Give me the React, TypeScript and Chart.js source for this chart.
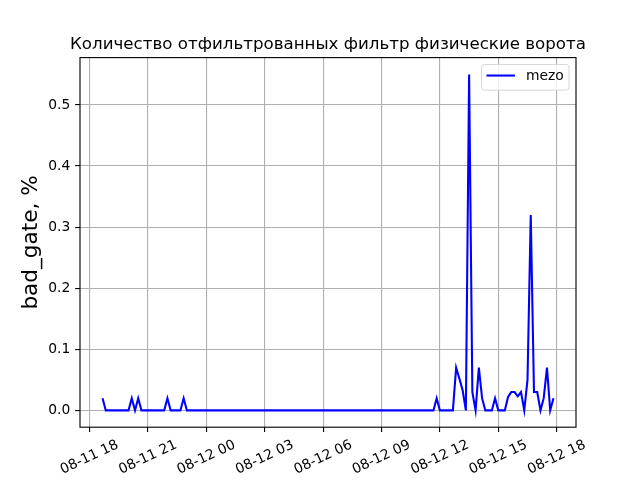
import React, { useEffect, useRef } from "react";
import { Chart, registerables } from "chart.js";

Chart.register(...registerables);

const chartTitle = "Количество отфильтрованных фильтр физические ворота";
const yAxisLabel = "bad_gate, %";
const seriesName = "mezo";

// first sample: 08-11 18:40 (hours counted from 08-11 00:00), one sample every 10 minutes
const startHour = 18 + 40 / 60;
const stepMinutes = 10;

const mezoValues = [
  0.02, 0, 0, 0, 0, 0, 0, 0, 0, 0.02,
  0, 0.02, 0, 0, 0, 0, 0, 0, 0, 0,
  0.02, 0, 0, 0, 0, 0.02, 0, 0, 0, 0,
  0, 0, 0, 0, 0, 0, 0, 0, 0, 0,
  0, 0, 0, 0, 0, 0, 0, 0, 0, 0,
  0, 0, 0, 0, 0, 0, 0, 0, 0, 0,
  0, 0, 0, 0, 0, 0, 0, 0, 0, 0,
  0, 0, 0, 0, 0, 0, 0, 0, 0, 0,
  0, 0, 0, 0, 0, 0, 0, 0, 0, 0,
  0, 0, 0, 0, 0, 0, 0, 0, 0, 0,
  0, 0, 0, 0.02, 0, 0, 0, 0, 0, 0.07,
  0.052, 0.033, 0, 0.55, 0.03, 0, 0.07, 0.02, 0, 0,
  0, 0.02, 0, 0, 0, 0.022, 0.03, 0.03, 0.023, 0.03,
  0, 0.05, 0.32, 0.03, 0.03, 0, 0.02, 0.07, 0, 0.02,
];

const xTickHours = [18, 21, 24, 27, 30, 33, 36, 39, 42];
const xTickLabels = [
  "08-11 18",
  "08-11 21",
  "08-12 00",
  "08-12 03",
  "08-12 06",
  "08-12 09",
  "08-12 12",
  "08-12 15",
  "08-12 18",
];
const yTickValues = [0, 0.1, 0.2, 0.3, 0.4, 0.5];
const yTickLabels = ["0.0", "0.1", "0.2", "0.3", "0.4", "0.5"];

const FONT = '"DejaVu Sans", sans-serif';

export default function App() {
  const canvasRef = useRef<HTMLCanvasElement | null>(null);

  useEffect(() => {
    const canvas = canvasRef.current;
    if (!canvas) return;

    const points = mezoValues.map((v, i) => ({
      x: startHour + (i * stepMinutes) / 60,
      y: v,
    }));
    const xsArr = points.map((p) => p.x);
    const ysArr = points.map((p) => p.y);
    const xMin = Math.min(...xsArr);
    const xMax = Math.max(...xsArr);
    const yMin = Math.min(...ysArr);
    const yMax = Math.max(...ysArr);
    const xPad = (xMax - xMin) * 0.05;
    const yPad = (yMax - yMin) * 0.05;

    const decor = {
      id: "decor",
      afterDraw(chart: any) {
        const ctx = chart.ctx as CanvasRenderingContext2D;
        const a = chart.chartArea;
        const xs = chart.scales.x;
        ctx.save();

        // spines
        ctx.strokeStyle = "#000";
        ctx.lineWidth = 1.11;
        ctx.strokeRect(a.left, a.top, a.right - a.left, a.bottom - a.top);

        // title
        ctx.fillStyle = "#000";
        ctx.font = `16.67px ${FONT}`;
        ctx.textAlign = "center";
        ctx.textBaseline = "alphabetic";
        ctx.fillText(chartTitle, (a.left + a.right) / 2, a.top - 8.33);

        // y axis label
        ctx.save();
        ctx.translate(a.left - 42.6, (a.top + a.bottom) / 2);
        ctx.rotate(-Math.PI / 2);
        ctx.font = `21.6px ${FONT}`;
        ctx.textAlign = "center";
        ctx.textBaseline = "alphabetic";
        ctx.fillText(yAxisLabel, 0, 0);
        ctx.restore();

        // x tick labels (rotated 25deg, centered on tick)
        ctx.font = `13.89px ${FONT}`;
        const rot = (25 * Math.PI) / 180;
        xTickHours.forEach((h, i) => {
          const px = xs.getPixelForValue(h);
          const label = xTickLabels[i];
          const w = ctx.measureText(label).width;
          const lh = 16.2;
          const H = w * Math.sin(rot) + lh * Math.cos(rot);
          const cy = a.bottom + 9.72 + H / 2;
          ctx.save();
          ctx.translate(px, cy);
          ctx.rotate(-rot);
          ctx.textAlign = "center";
          ctx.textBaseline = "middle";
          ctx.fillText(label, 0, 0);
          ctx.restore();
        });

        // legend
        const bw = 87.6;
        const bh = 25.6;
        const bx = a.right - 6.94 - bw;
        const by = a.top + 6.94;
        const r = 2.8;
        ctx.beginPath();
        ctx.moveTo(bx + r, by);
        ctx.lineTo(bx + bw - r, by);
        ctx.arcTo(bx + bw, by, bx + bw, by + r, r);
        ctx.lineTo(bx + bw, by + bh - r);
        ctx.arcTo(bx + bw, by + bh, bx + bw - r, by + bh, r);
        ctx.lineTo(bx + r, by + bh);
        ctx.arcTo(bx, by + bh, bx, by + bh - r, r);
        ctx.lineTo(bx, by + r);
        ctx.arcTo(bx, by, bx + r, by, r);
        ctx.closePath();
        ctx.fillStyle = "rgba(255,255,255,0.8)";
        ctx.fill();
        ctx.strokeStyle = "#d6d6d6";
        ctx.lineWidth = 1;
        ctx.stroke();

        ctx.beginPath();
        ctx.moveTo(bx + 5, by + bh / 2 - 1.8);
        ctx.lineTo(bx + 33.5, by + bh / 2 - 1.8);
        ctx.strokeStyle = "#0000ff";
        ctx.lineWidth = 2.08;
        ctx.stroke();

        ctx.fillStyle = "#000";
        ctx.font = `13.89px ${FONT}`;
        ctx.textAlign = "left";
        ctx.textBaseline = "alphabetic";
        ctx.fillText(seriesName, bx + 44.5, by + 15);

        ctx.restore();
      },
    };

    const gridCommon = {
      color: "#b0b0b0",
      lineWidth: 1.11,
      drawTicks: true,
      tickLength: 4.86,
      tickColor: "#000",
      tickWidth: 1.11,
    };

    const chart = new Chart(canvas, {
      type: "line",
      data: {
        datasets: [
          {
            label: seriesName,
            data: points,
            borderColor: "#0000ff",
            backgroundColor: "#0000ff",
            borderWidth: 2.08,
            pointRadius: 0,
            fill: false,
            tension: 0,
          },
        ],
      },
      options: {
        animation: false,
        responsive: false,
        devicePixelRatio: 1,
        events: [],
        layout: { padding: { top: 57.6, right: 64, bottom: 0, left: 0 } },
        plugins: {
          legend: { display: false },
          title: { display: false },
          tooltip: { enabled: false },
        },
        scales: {
          x: {
            type: "linear",
            min: xMin - xPad,
            max: xMax + xPad,
            afterBuildTicks: (s: any) => {
              s.ticks = xTickHours.map((v) => ({ value: v }));
            },
            afterFit: (s: any) => {
              s.height = 52.8;
            },
            grid: gridCommon,
            border: { display: false },
            ticks: { display: false },
          },
          y: {
            type: "linear",
            min: yMin - yPad,
            max: yMax + yPad,
            afterBuildTicks: (s: any) => {
              s.ticks = yTickValues.map((v) => ({ value: v }));
            },
            afterFit: (s: any) => {
              s.width = 80;
            },
            grid: gridCommon,
            border: { display: false },
            ticks: {
              display: true,
              padding: 4.86,
              color: "#000",
              font: { family: FONT, size: 13.89 },
              callback: (_v: any, i: number) => yTickLabels[i],
            },
          },
        },
      } as any,
      plugins: [decor],
    });

    return () => chart.destroy();
  }, []);

  return (
    <div style={{ position: "fixed", left: 0, top: 0, width: 640, height: 480, background: "#fff" }}>
      <canvas ref={canvasRef} width={640} height={480} style={{ width: 640, height: 480, display: "block" }} />
    </div>
  );
}
